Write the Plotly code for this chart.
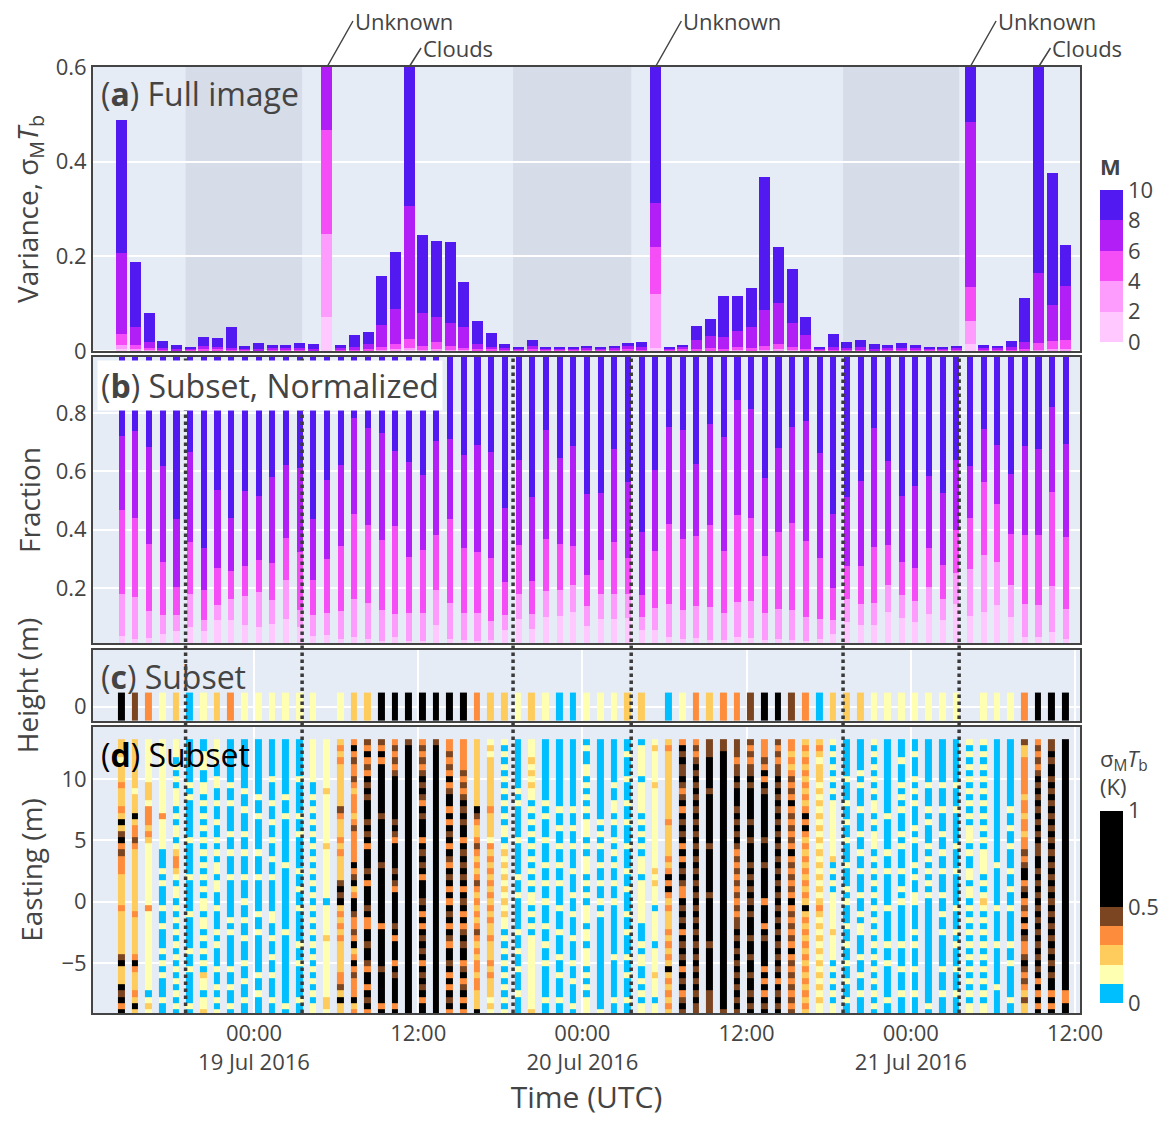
import numpy as np
import pandas as pd
import plotly.graph_objects as go
from plotly.subplots import make_subplots

# hourly sample times
times = pd.date_range('2016-07-18 14:20', periods=70, freq='h')

# (a) variance per M bin, stacked from M 0-2 (bottom) to M 8-10 (top)
var_m0 = [.004, .002, .001, .0003, .0002, .0005, .0005, .0005, .0003, .0003,
          .0003, .0003, .0003, .0003, .0002, .072, .0003, .0003, .0005, .001,
          .001, .002, .001, .001, .001, .0005, .0005, .0005, .0003, .0003,
          .001, .0003, .0003, .0003, .0003, .0003, .0005, .0005, .0005, .006,
          .0003, .0003, .0005, .0005, .0003, .001, .0005, .001, .001, .0005,
          .0003, .0003, .0003, .0003, .0003, .0002, .0003, .0003, .0003, .0003,
          .0003, .0003, .015, .0003, .0003, .0003, .0003, .001, .001, .001]
var_m2 = [.008, .003, .002, .0007, .0005, .001, .0015, .001, .0007, .0007,
          .0007, .0007, .0007, .0007, .0005, .175, .0007, .0007, .0015, .002,
          .003, .005, .002, .004, .002, .0015, .0015, .001, .0007, .0007,
          .001, .0007, .0007, .0007, .0007, .0007, .001, .0015, .0015, .114,
          .0007, .0007, .0015, .0015, .0007, .002, .0015, .002, .003, .0015,
          .0007, .0007, .0007, .0007, .0007, .0005, .0007, .0007, .0007, .0007,
          .0007, .0007, .048, .0007, .0006, .0007, .0007, .002, .004, .004]
var_m4 = [.024, .007, .004, .002, .001, .002, .003, .002, .002, .0015,
          .001, .0017, .0017, .002, .0013, .220, .0017, .002, .003, .006,
          .011, .018, .008, .013, .008, .005, .003, .0025, .002, .0015,
          .002, .0015, .0015, .0015, .0015, .0015, .002, .003, .002, .100,
          .0015, .0025, .003, .004, .003, .005, .004, .008, .011, .006,
          .003, .0015, .002, .002, .002, .0013, .0017, .002, .0017, .0015,
          .0015, .0016, .073, .0017, .0017, .002, .003, .014, .016, .018]
var_m6 = [.170, .039, .013, .004, .003, .002, .006, .005, .004, .002,
          .003, .003, .003, .004, .003, .350, .003, .006, .010, .046,
          .074, .281, .069, .054, .048, .044, .010, .005, .004, .003,
          .007, .002, .002, .002, .003, .002, .003, .005, .004, .093,
          .002, .005, .018, .026, .026, .034, .045, .076, .086, .051,
          .030, .003, .005, .004, .005, .003, .003, .004, .003, .002,
          .002, .003, .348, .004, .003, .005, .015, .148, .077, .115]
var_m8 = [.282, .137, .060, .014, .008, .003, .019, .018, .044, .006,
          .012, .007, .007, .010, .010, .800, .007, .025, .025, .103,
          .120, .600, .165, .160, .171, .095, .048, .030, .008, .003,
          .012, .004, .002, .002, .005, .004, .002, .007, .011, .800,
          .002, .004, .030, .036, .086, .074, .082, .281, .119, .114,
          .038, .003, .028, .012, .015, .010, .007, .010, .007, .002,
          .004, .005, .800, .006, .005, .013, .093, .600, .278, .086]

# (b) cumulative fraction below M = 2, 4, 6, 8 (subset, normalized)
frac_cum2 = [.035, .025, .027, .041, .052, .066, .052, .090, .090, .073,
             .066, .076, .094, .066, .035, .039, .025, .032, .025, .018,
             .032, .018, .018, .073, .025, .022, .018, .022, .056, .094,
             .059, .100, .104, .118, .070, .094, .094, .097, .056, .056,
             .032, .025, .028, .022, .022, .032, .028, .022, .025, .022,
             .018, .025, .042, .083, .073, .073, .118, .097, .083, .111,
             .090, .145, .104, .118, .142, .100, .032, .032, .049, .025]
frac_cum4 = [.179, .169, .121, .107, .107, .179, .090, .142, .162, .172,
             .186, .159, .227, .124, .107, .114, .121, .162, .148, .124,
             .111, .114, .114, .193, .148, .114, .114, .087, .107, .179,
             .111, .190, .193, .210, .138, .179, .179, .179, .100, .131,
             .145, .124, .138, .135, .114, .152, .155, .114, .128, .124,
             .100, .094, .090, .162, .145, .148, .210, .176, .155, .203,
             .162, .251, .265, .313, .289, .210, .145, .142, .207, .128]
frac_cum6 = [.467, .440, .351, .289, .203, .358, .193, .268, .258, .275,
             .296, .286, .371, .323, .227, .299, .344, .454, .416, .364,
             .412, .306, .330, .382, .437, .337, .323, .303, .220, .347,
             .224, .368, .351, .344, .244, .296, .358, .303, .176, .327,
             .419, .368, .378, .416, .327, .450, .440, .309, .392, .423,
             .361, .303, .200, .275, .275, .340, .347, .289, .268, .337,
             .279, .399, .440, .563, .488, .385, .382, .382, .529, .375]
frac_cum8 = [.722, .739, .683, .618, .437, .666, .337, .536, .440, .532,
             .515, .581, .622, .611, .437, .570, .622, .783, .749, .732,
             .669, .632, .587, .704, .711, .656, .690, .666, .474, .639,
             .512, .742, .645, .687, .522, .526, .677, .563, .392, .605,
             .752, .742, .625, .763, .718, .845, .814, .577, .680, .752,
             .773, .663, .454, .512, .567, .749, .636, .515, .550, .584,
             .526, .639, .618, .745, .690, .591, .687, .677, .821, .694]

# sigma_M T_b bins (K): code 0..5 -> representative value
bin_values = [0.05, 0.15, 0.25, 0.35, 0.45, 0.75]

# (c) one height row, '-' = no data
height_codes = '543120123111111-1225555' + '5553221210011122-0132334' + '554302221111111-1113555'

# (d) easting profile per time, top (13 m) to bottom (-9 m) in 0.5 m steps
easting = np.arange(-9, 13.01, 0.5)
easting_cols = [
    "22212 22322 23252 45343 33222 22322 22222 45222 54535",
    "22222 22212 22523 34322 22222 22232 22222 35322 23252",
    "11111 11222 13332 32111 11111 11311 11111 11111 10121",
    "11111 11111 11311 11100 01010 00100 10001 01010 00100",
    "11101 01011 10101 10123 32101 10101 01010 10101 01010",
    "00000 00101 00000 01000 00100 00010 00001 00100 00010",
    "00111 00110 10101 01010 10101 01101 10101 01021 10112",
    "11110 01100 10010 01010 11011 00100 01010 00100 10101",
    "00000 00100 10000 10010 00100 00001 01000 00100 10010",
    "00000 00010 01000 10010 00100 01001 00100 01001 00100",
    "00000 00001 00100 00010 00100 00010 01000 00010 01000",
    "00000 01000 10010 01001 00100 00011 00100 10010 00100",
    "00000 00001 00100 00000 10000 00000 01000 00000 00010",
    "00000 01000 00100 10000 01001 00100 00010 01000 00100",
    "11111 11001 01010 10101 01010 10101 01010 10101 01011",
    "11111 11121 11111 11211 11111 10111 11211 11111 11221",
    "23232 22222 24322 23232 22245 45232 32322 22233 42522",
    "35343 34323 33234 33333 53452 35543 34352 35343 33523",
    "43534 35454 55545 45355 54535 55453 35545 54355 35453",
    "43535 55555 55455 55555 45555 55555 35555 55455 55535",
    "34343 45555 55545 43555 54543 55555 45355 53545 55535",
    "45555 55555 55555 55555 55555 55555 55555 55555 55555",
    "34343 45454 35455 53545 45355 54535 35454 53545 45355",
    "45555 55555 55555 55555 55555 55555 55555 55555 55555",
    "33434 35345 53535 45354 35453 53545 35435 54535 35453",
    "33333 43434 54545 53545 45453 54535 34545 53453 45353",
    "22222 22222 25432 23432 32343 23232 34323 23323 32225",
    "12122 22222 23222 21323 23232 32323 22322 23232 22121",
    "10101 01010 10101 10121 21212 12121 10101 01010 10101",
    "00000 00010 10000 01000 00100 10000 01001 00100 01000",
    "11121 21211 01010 10101 01010 11010 10111 11111 11112",
    "00000 00000 10100 01000 10010 01000 10010 01000 00100",
    "00000 00000 01001 00100 10010 00100 01000 10010 00100",
    "00000 00000 01001 00100 01000 10010 00100 01001 00010",
    "01001 10101 01011 10101 11010 10111 01101 11010 10111",
    "00000 00000 00010 10100 10010 01010 00000 00000 00001",
    "00000 00100 11010 01010 10010 01000 00000 10000 00100",
    "00100 01000 10010 00100 01001 00010 01000 10010 00100",
    "01111 10111 11010 10101 11011 11111 00010 11001 01011",
    "12111 11211 11111 11111 12121 11011 11101 11121 11011",
    "23222 22222 22232 22223 23535 32322 23232 32523 23232",
    "35454 45434 53545 45353 54543 35454 53545 45354 53454",
    "34345 45454 54545 45454 54545 45454 54545 45454 54544",
    "44455 55545 55555 55455 55555 45555 55545 55555 54444",
    "44555 55555 55555 55555 55555 55555 55555 55555 55554",
    "44434 45455 54545 45434 34343 43434 45454 54545 45454",
    "43434 45455 55545 54555 45454 54545 55455 45545 54545",
    "33343 53545 55555 54555 45555 53555 35455 55353 53545",
    "43434 45454 54545 45454 54545 45454 54545 45453 54545",
    "33232 34343 53434 34353 43434 35343 43435 34343 43434",
    "23232 32323 23535 32323 23232 32523 23232 32323 23232",
    "23212 22121 21212 12121 21212 12321 21212 12121 21211",
    "10101 01010 11111 11112 01010 11111 12111 10101 01011",
    "00000 01000 10010 01000 10001 01000 10010 01001 00100",
    "00000 10100 01000 10010 01000 10010 11000 10010 01000",
    "10101 01010 11010 11101 01010 10101 01010 10101 01010",
    "00000 00000 00100 00010 01000 00100 00010 01000 00100",
    "00010 00101 01000 10100 01001 01000 00010 00100 01000",
    "00100 01010 10001 01000 10100 11000 01010 00100 01000",
    "00000 00100 01010 00101 01010 10000 00000 00000 00010",
    "00000 00100 01000 10010 01000 10010 01000 00100 01000",
    "00000 00100 01000 00100 01000 00100 01010 00100 01000",
    "10101 01010 10101 11010 01101 10101 01010 10101 01011",
    "10101 01010 10101 01011 11010 12101 01010 10101 01011",
    "00000 00000 00000 00000 10000 00100 00010 00000 10000",
    "00000 00000 01001 00100 01001 00100 00010 01000 00100",
    "42233 33332 33233 23343 45534 53435 35433 45434 32422",
    "34343 45454 54545 45445 54545 45454 54545 45453 53535",
    "44545 54545 45454 54545 45454 54545 45454 54545 53535",
    "55555 55555 55555 55555 55555 55555 55555 55555 53355",
]

# night periods (shaded in (a), dotted boundaries in (b)-(d))
night_start = ['2016-07-18 19:00', '2016-07-19 18:56', '2016-07-20 19:03']
night_end = ['2016-07-19 03:31', '2016-07-20 03:34', '2016-07-21 03:32']

# labelled events in (a)
event_idx = [15, 21, 39, 62, 67]
event_text = ['Unknown', 'Clouds', 'Unknown', 'Unknown', 'Clouds']

tick_times = ['2016-07-19 00:00', '2016-07-19 12:00', '2016-07-20 00:00',
              '2016-07-20 12:00', '2016-07-21 00:00', '2016-07-21 12:00']
tick_labels = ['00:00<br>19 Jul 2016', '12:00', '00:00<br>20 Jul 2016',
               '12:00', '00:00<br>21 Jul 2016', '12:00']

m_colors = ['#FFC8FE', '#FE9CFD', '#F54EF7', '#B21FF6', '#521AF0']
sig_colors = ['#00BFFF', '#FFFFB2', '#FECC5C', '#FD8D3C', '#7A4520', '#000000']

#######################################################
# Figure
#######################################################

fig = make_subplots(rows=4, cols=1, shared_xaxes=True)

# (a) full image variance
for vals, col in zip([var_m0, var_m2, var_m4, var_m6, var_m8], m_colors):
    fig.add_trace(go.Bar(x=times, y=vals, width=2.9e6, marker_color=col,
                         marker_line_width=0, hoverinfo='skip'), row=1, col=1)

# M colour bar (dummy point outside the range)
fig.add_trace(go.Scatter(x=[times[0]], y=[-1], mode='markers',
                         marker=dict(color=[0], coloraxis='coloraxis2', opacity=0),
                         hoverinfo='skip'), row=1, col=1)

# (b) normalized fractions
c2, c4, c6, c8 = map(np.array, (frac_cum2, frac_cum4, frac_cum6, frac_cum8))
frac_segs = [c2, c4 - c2, c6 - c4, c8 - c6, 1 - c8]
for vals, col in zip(frac_segs, m_colors):
    fig.add_trace(go.Bar(x=times, y=vals, width=1.6e6, marker_color=col,
                         marker_line_width=0, hoverinfo='skip'), row=2, col=1)

# (c) height subset
z_c = [[None if ch == '-' else bin_values[int(ch)] for ch in height_codes]]
fig.add_trace(go.Heatmap(x=times, y=[0], z=z_c, coloraxis='coloraxis', xgap=7,
                         hoverinfo='skip'), row=3, col=1)

# (d) easting subset
cols = [s.replace(' ', '')[::-1] for s in easting_cols]  # bottom to top
z_d = [[bin_values[int(c[r])] for c in cols] for r in range(len(easting))]
fig.add_trace(go.Heatmap(x=times, y=easting, z=z_d, coloraxis='coloraxis', xgap=7,
                         hoverinfo='skip'), row=4, col=1)

# discrete colour scales
m_scale = []
for i, c in enumerate(m_colors):
    m_scale += [[i / 5, c], [(i + 1) / 5, c]]
sig_edges = [0, 0.1, 0.2, 0.3, 0.4, 0.5, 1.0]
sig_scale = []
for i, c in enumerate(sig_colors):
    sig_scale += [[sig_edges[i], c], [sig_edges[i + 1], c]]

axis_style = dict(showline=True, mirror=True, linecolor='#444', linewidth=2,
                  gridcolor='white', gridwidth=2, ticks='', automargin=False)

fig.update_layout(
    width=1173, height=1127,
    margin=dict(l=85, r=101, t=59, b=122),
    font=dict(family='Open Sans', size=22, color='#444'),
    barmode='stack',
    showlegend=False,
    plot_bgcolor='#E5ECF6',
    coloraxis=dict(colorscale=sig_scale, cmin=0, cmax=1,
                   colorbar=dict(x=1.0203, xanchor='left', xpad=0, ypad=0,
                                 y=0.1458, yanchor='middle', len=0.2705, thickness=23,
                                 outlinewidth=0, tickvals=[0, 0.5, 1], ticks='',
                                 title=dict(text='σ<sub>M</sub><i>T</i><sub>b</sub><br>(K)',
                                            side='top', font=dict(size=22)))),
    coloraxis2=dict(colorscale=m_scale, cmin=0, cmax=10,
                    colorbar=dict(x=1.0203, xanchor='left', xpad=0, ypad=0,
                                  y=0.808, yanchor='middle', len=0.1975, thickness=23,
                                  outlinewidth=0, tickvals=[0, 2, 4, 6, 8, 10], ticks='',
                                  title=dict(text='<b>M</b>', side='top', font=dict(size=22)))),
)

x_range = ['2016-07-18 12:14', '2016-07-21 12:22']
for r in range(1, 5):
    fig.update_xaxes(range=x_range, tickvals=tick_times, ticktext=tick_labels,
                     showgrid=(r >= 3), row=r, col=1, **axis_style)
fig.update_xaxes(title=dict(text='Time (UTC)', font=dict(size=30), standoff=6), row=4, col=1)

fig.update_yaxes(domain=[0.6998, 1], range=[0, 0.6], tickvals=[0, 0.2, 0.4, 0.6],
                 title=dict(text='Variance, σ<sub>M</sub><i>T</i><sub>b</sub>',
                            font=dict(size=28), standoff=10),
                 row=1, col=1, **axis_style)
fig.update_yaxes(domain=[0.3911, 0.6934], range=[0.011, 0.993], tickvals=[0.2, 0.4, 0.6, 0.8],
                 title=dict(text='Fraction', font=dict(size=28), standoff=7),
                 row=2, col=1, **axis_style)
fig.update_yaxes(domain=[0.3087, 0.3837], range=[-0.5, 2.0], tickvals=[0],
                 title=dict(text='Height (m)', font=dict(size=28), standoff=28),
                 row=3, col=1, **axis_style)
fig.update_yaxes(domain=[0, 0.3023], range=[-9.07, 14.24], tickvals=[-5, 0, 5, 10],
                 zeroline=False,
                 title=dict(text='Easting (m)', font=dict(size=28), standoff=11),
                 row=4, col=1, **axis_style)

# shaded nights in (a)
for t0, t1 in zip(night_start, night_end):
    fig.add_shape(type='rect', xref='x', yref='y domain', x0=t0, x1=t1, y0=0, y1=1,
                  fillcolor='#D6DDE9', line_width=0, layer='below')

# dotted night boundaries through (b)-(d)
for t in night_start + night_end:
    fig.add_shape(type='line', xref='x', yref='paper', x0=t, x1=t, y0=0, y1=0.6934,
                  line=dict(color='#3a3a3a', width=3.5, dash='3.5px,3.5px'), layer='above')

# event labels
for k, txt in zip(event_idx, event_text):
    far = txt == 'Unknown'
    fig.add_annotation(x=times[k], y=0.6, xref='x', yref='y', text=txt,
                       showarrow=True, arrowhead=0, arrowwidth=1.5, arrowcolor='#444',
                       ax=26 if far else 12, ay=-46 if far else -19,
                       xanchor='left', yanchor='middle', font=dict(size=22, color='#444'))

# panel labels
panels = [('(<b>a</b>) Full image', 'y', -1, None, '#444'),
          ('(<b>b</b>) Subset, Normalized', 'y2', -3, 'white', '#444'),
          ('(<b>c</b>) Subset', 'y3', -1, None, '#444'),
          ('(<b>d</b>) Subset', 'y4', -2, None, 'black')]
for txt, yref, ysh, bg, fc in panels:
    fig.add_annotation(text=txt, xref='x domain', yref=yref + ' domain', x=0, y=1,
                       xanchor='left', yanchor='top', xshift=4, yshift=ysh,
                       showarrow=False, bgcolor=bg, borderpad=3,
                       font=dict(size=32, color=fc))

fig.write_html("out.html")
